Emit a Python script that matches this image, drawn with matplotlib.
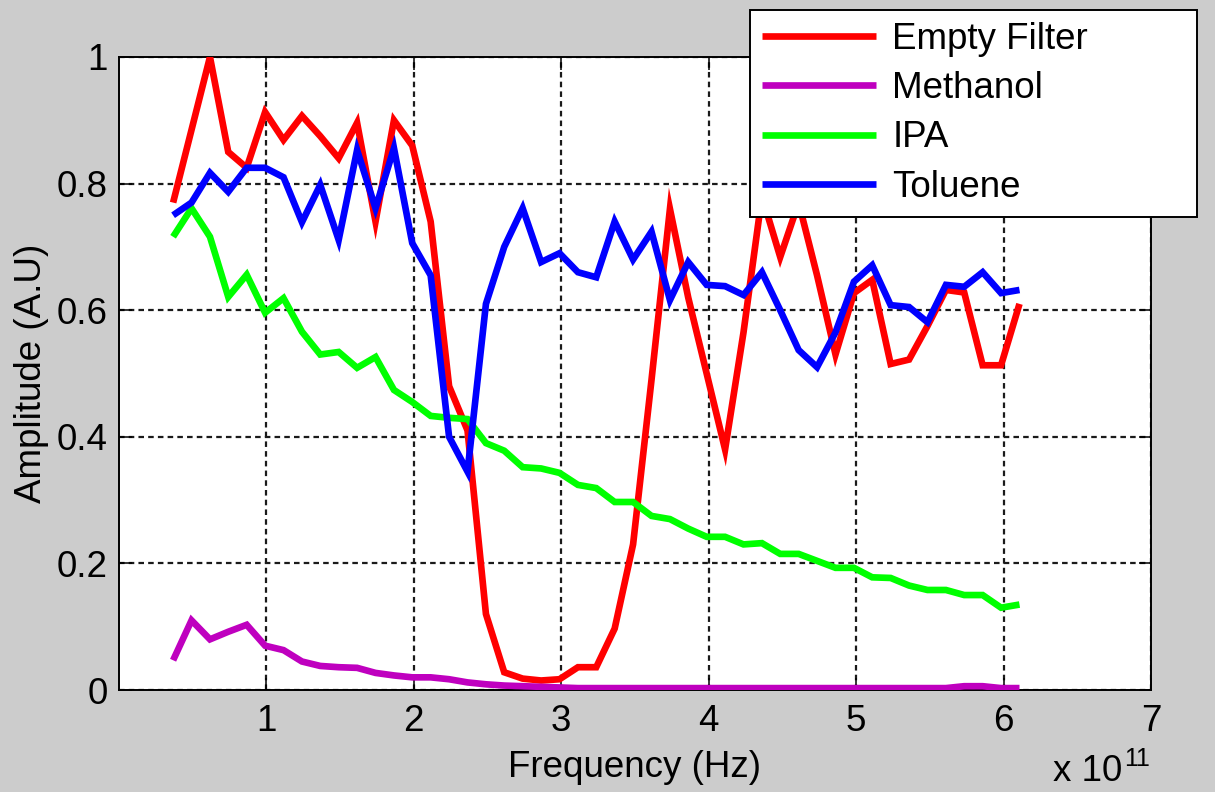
import matplotlib
matplotlib.use('Agg')
import matplotlib.pyplot as plt

plt.rcParams['font.family'] = ['Liberation Sans', 'DejaVu Sans']
plt.rcParams['lines.scale_dashes'] = False

# Frequency in units of 1e11 Hz
freq = [0.367, 0.492, 0.617, 0.741, 0.866, 0.991, 1.116, 1.241, 1.365, 1.490,
        1.615, 1.740, 1.865, 1.989, 2.114, 2.239, 2.364, 2.489, 2.613, 2.738,
        2.863, 2.988, 3.113, 3.237, 3.362, 3.487, 3.612, 3.737, 3.861, 3.986,
        4.111, 4.236, 4.361, 4.485, 4.610, 4.735, 4.860, 4.985, 5.109, 5.234,
        5.359, 5.484, 5.609, 5.733, 5.858, 5.983, 6.108]

empty_filter = [0.770, 0.885, 1.000, 0.850, 0.825, 0.913, 0.869, 0.907, 0.875, 0.840,
                0.896, 0.740, 0.900, 0.860, 0.740, 0.480, 0.410, 0.120, 0.028, 0.018,
                0.015, 0.017, 0.036, 0.036, 0.097, 0.230, 0.490, 0.760, 0.620, 0.500,
                0.380, 0.565, 0.780, 0.684, 0.770, 0.655, 0.530, 0.627, 0.648, 0.515,
                0.522, 0.575, 0.632, 0.628, 0.513, 0.513, 0.610]

methanol = [0.047, 0.110, 0.080, 0.092, 0.103, 0.070, 0.063, 0.045, 0.038, 0.036,
            0.035, 0.027, 0.023, 0.020, 0.020, 0.017, 0.012, 0.009, 0.007, 0.006,
            0.005, 0.004, 0.003, 0.003, 0.003, 0.003, 0.003, 0.003, 0.003, 0.003,
            0.003, 0.003, 0.003, 0.003, 0.003, 0.003, 0.003, 0.003, 0.003, 0.003,
            0.003, 0.003, 0.003, 0.006, 0.006, 0.003, 0.003]

ipa = [0.716, 0.761, 0.716, 0.621, 0.656, 0.596, 0.619, 0.566, 0.530, 0.534,
       0.509, 0.526, 0.474, 0.455, 0.433, 0.430, 0.428, 0.390, 0.378, 0.352,
       0.350, 0.343, 0.324, 0.319, 0.297, 0.297, 0.275, 0.270, 0.255, 0.242,
       0.242, 0.230, 0.232, 0.215, 0.215, 0.204, 0.193, 0.193, 0.178, 0.177,
       0.165, 0.158, 0.158, 0.150, 0.150, 0.130, 0.135]

toluene = [0.750, 0.770, 0.817, 0.787, 0.825, 0.825, 0.810, 0.739, 0.798, 0.711,
           0.853, 0.761, 0.856, 0.706, 0.655, 0.400, 0.345, 0.610, 0.700, 0.761,
           0.676, 0.690, 0.660, 0.652, 0.740, 0.680, 0.724, 0.616, 0.676, 0.640,
           0.638, 0.624, 0.660, 0.600, 0.537, 0.510, 0.565, 0.645, 0.671, 0.608,
           0.605, 0.581, 0.640, 0.637, 0.660, 0.627, 0.632]

series_labels = ['Empty Filter', 'Methanol', 'IPA', 'Toluene']
series_colors = ['#ff0000', '#bf00bf', '#00ff00', '#0000ff']
xticks = [1, 2, 3, 4, 5, 6, 7]
yticks = [0, 0.2, 0.4, 0.6, 0.8, 1]
ytick_labels = ['0', '0.2', '0.4', '0.6', '0.8', '1']

FS = 26.5
W, H = 1215, 792
fig = plt.figure(figsize=(W / 100, H / 100), dpi=100, facecolor='#cccccc')
ax = fig.add_axes([119 / W, 102 / H, 1032 / W, 633 / H])
ax.set_facecolor('white')

handles = []
for data, lab, col in zip([empty_filter, methanol, ipa, toluene], series_labels, series_colors):
    h, = ax.plot(freq, data, color=col, lw=4.8, label=lab, zorder=3,
                 solid_joinstyle='miter', solid_capstyle='butt')
    handles.append(h)

ax.set_xlim(0, 7)
ax.set_ylim(0, 1)
ax.set_xticks(xticks)
ax.set_xticklabels([str(t) for t in xticks])
ax.set_yticks(yticks)
ax.set_yticklabels(ytick_labels)

ax.grid(True, color='#1a1a1a', linewidth=1.6, linestyle=(0, (4.0, 3.0)))
ax.set_axisbelow(True)
ax.tick_params(axis='both', direction='in', length=9, width=1.1, top=True, right=True,
               labelsize=FS, colors='black')
ax.tick_params(axis='x', pad=10)
ax.tick_params(axis='y', pad=8)
for s in ax.spines.values():
    s.set_linewidth(1.4)
    s.set_color('black')

ax.set_xlabel('Frequency (Hz)', fontsize=FS, labelpad=8)
ax.set_ylabel('Amplitude (A.U)', fontsize=FS, labelpad=6)

fig.text(1122 / W, 1 - 789 / H, 'x 10', fontsize=FS, ha='right', va='bottom')
fig.text(1124 / W, 1 - 771 / H, '11', fontsize=18, ha='left', va='bottom')

leg = fig.legend(handles, series_labels, loc='upper left',
                 bbox_to_anchor=(750 / W, 1 - 10 / H, 447 / W, 0.0), mode='expand',
                 fontsize=FS, frameon=True, fancybox=False, framealpha=1,
                 edgecolor='black', facecolor='white', handlelength=3.1,
                 handletextpad=0.45, labelspacing=0.39, borderpad=0.32,
                 borderaxespad=0)
leg.get_frame().set_linewidth(1.4)

fig.savefig('out.png', dpi=100, facecolor=fig.get_facecolor())
